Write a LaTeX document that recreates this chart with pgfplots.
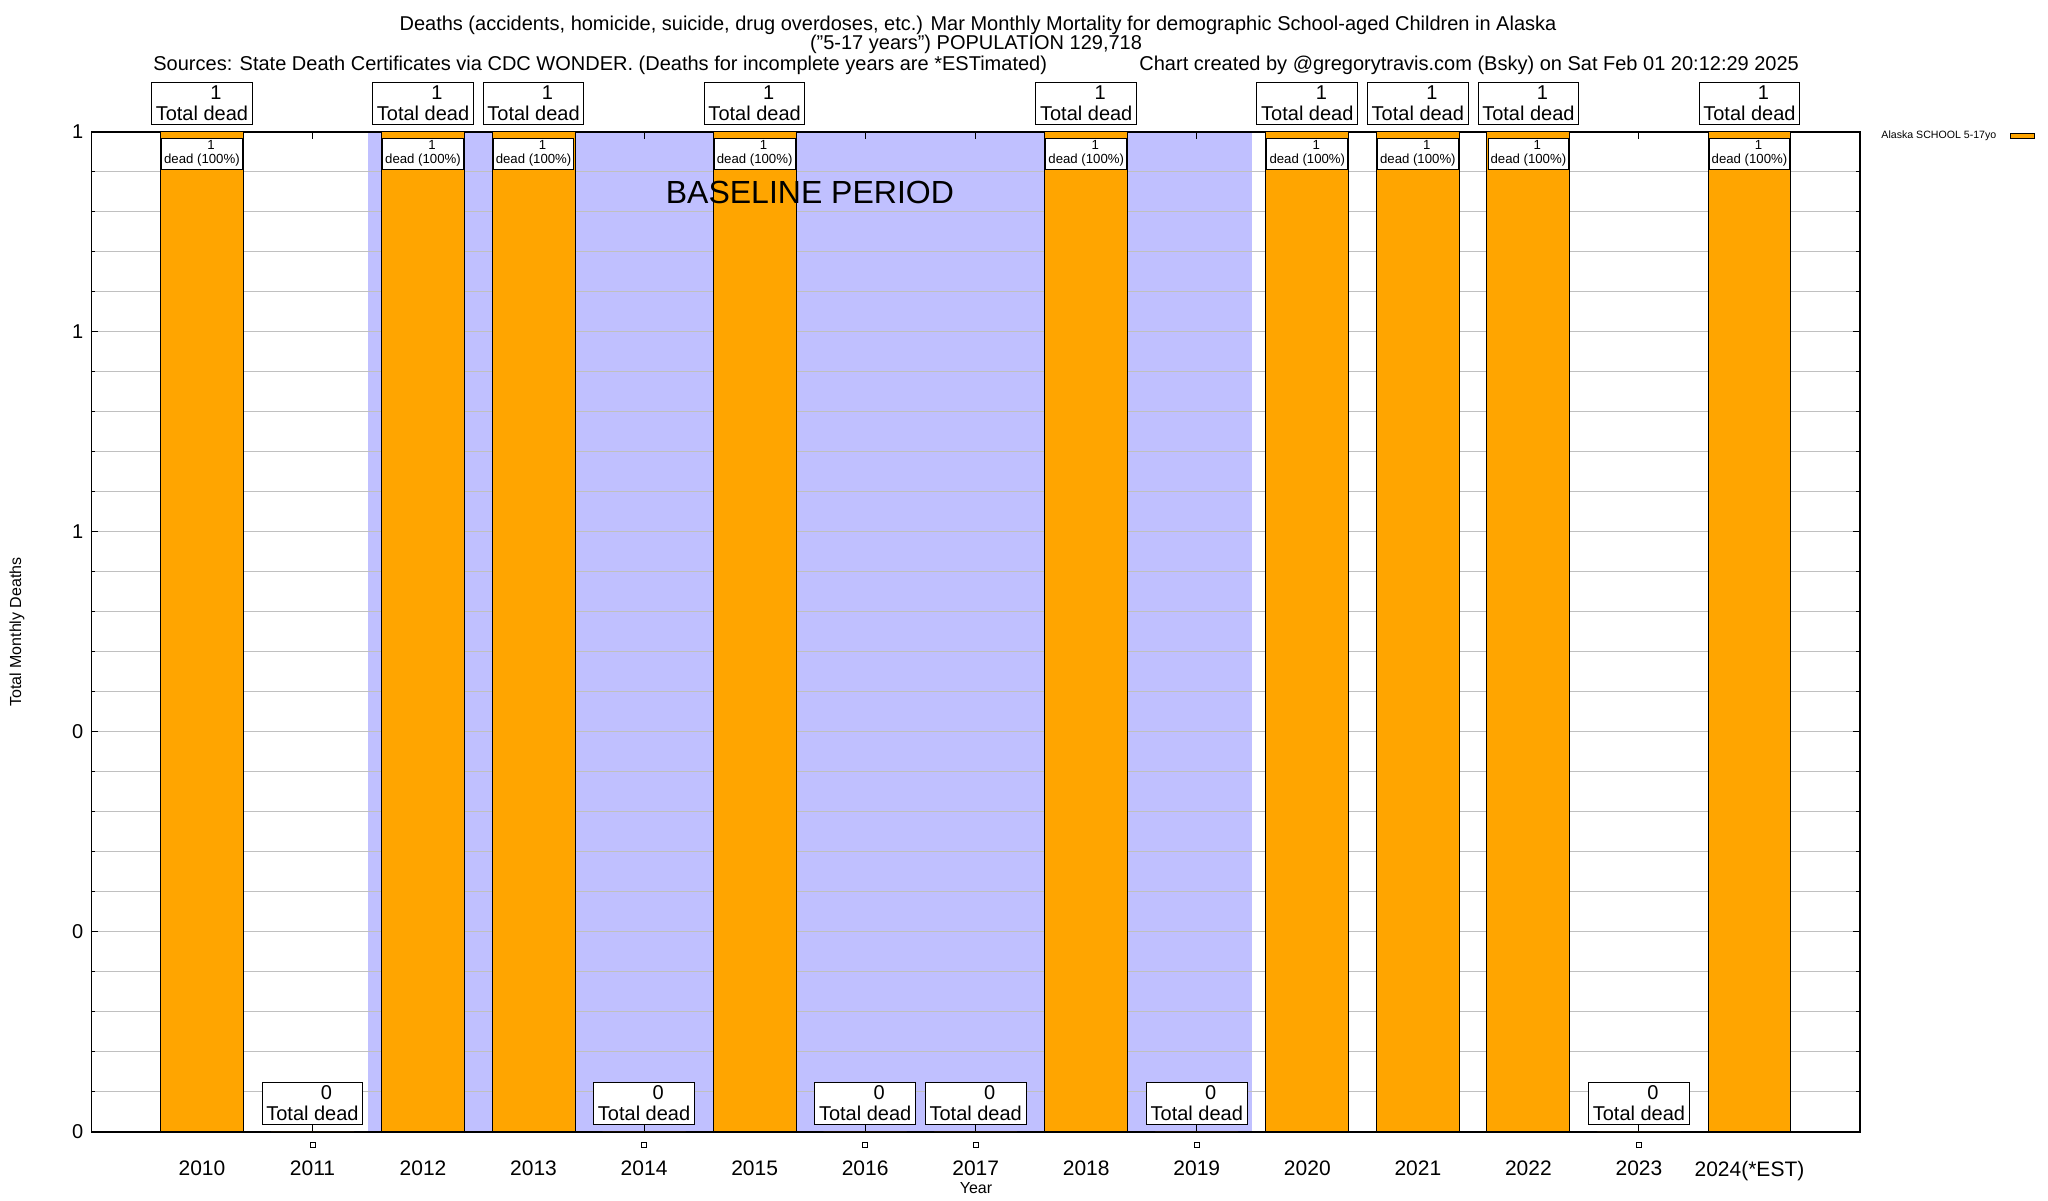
\documentclass[border=0pt]{standalone}
\usepackage{fontspec}
\setmainfont{Liberation Sans}
\usepackage{pgfplots}
\usepackage{pgfplotstable}
\pgfplotsset{compat=1.18}
\definecolor{barorange}{RGB}{255,165,0}
\definecolor{baseblue}{RGB}{192,192,255}
\definecolor{gridgray}{RGB}{192,192,192}
\pgfplotstableread{
x y
0 1
1 0
2 1
3 1
4 0
5 1
6 0
7 0
8 1
9 0
10 1
11 1
12 1
13 0
14 1
}\deathtab
\pgfplotstableread{
x y
0 1
2 1
3 1
5 1
8 1
10 1
11 1
12 1
14 1
}\onetab
\pgfplotstableread{
x y
1 0
4 0
6 0
7 0
9 0
13 0
}\zerotab
\begin{document}
\begin{tikzpicture}
\begin{axis}[
  set layers,
  at={(45.7pt,34pt)}, anchor=south west,
  scale only axis, width=884.3pt, height=500pt,
  xmin=-1, xmax=15, ymin=0, ymax=1,
  clip=false,
  /pgf/number format/assume math mode=true,
  xtick={0,...,14},
  xticklabels={2010,2011,2012,2013,2014,2015,2016,2017,2018,2019,2020,2021,2022,2023,2024(*EST)},
  ytick={0,0.2,0.4,0.6,0.8,1},
  yticklabels={0,0,0,1,1,1},
  minor y tick num=4,
  ymajorgrids, yminorgrids,
  major grid style={gridgray, line width=0.5pt},
  minor grid style={gridgray, line width=0.5pt},
  tick align=inside,
  xtick pos=both, ytick pos=both,
  major tick length=3.5pt, minor tick length=1.8pt,
  tick style={black, line width=0.5pt},
  axis line style={black, line width=0.6pt},
  xticklabel style={font=\fontsize{10.5}{12}\selectfont, yshift=-11pt},
  yticklabel style={font=\fontsize{10}{12}\selectfont, xshift=-0.5pt},
]
% baseline period shading
\addplot[on layer=axis background, draw=none, fill=baseblue, forget plot]
  coordinates {(1.5,0) (1.5,1) (9.5,1) (9.5,0)} -- cycle;
% bars
\addplot[ybar, bar width=0.75, fill=barorange, draw=black, line width=0.5pt,
  nodes near coords={\hspace*{14pt}\pgfmathprintnumber{\pgfplotspointmeta}\\Total dead},
  nodes near coords style={anchor=south, yshift=3.5pt, align=center, draw=black, fill=white,
    line width=0.5pt, inner xsep=2.1pt, inner ysep=1.8pt,
    font=\fontsize{10}{10.5}\selectfont, text=black},
] table[x=x,y=y]{\deathtab};
% inner labels on bars with deaths
\addplot[only marks, mark=none, forget plot,
  nodes near coords={\hspace*{9pt}\pgfmathprintnumber{\pgfplotspointmeta}\\dead (100\%)},
  nodes near coords style={anchor=north, yshift=-3pt, align=center, draw=black, fill=white,
    line width=0.5pt, inner xsep=1.3pt, inner ysep=1.2pt,
    font=\fontsize{6.6}{7}\selectfont, text=black},
] table[x=x,y=y]{\onetab};
% small squares below zero-valued years
\addplot[only marks, mark=square*, mark size=1.25pt, forget plot,
  mark options={draw=black, fill=white, line width=0.4pt, yshift=-6.5pt},
] table[x=x,y=y]{\zerotab};
\node[font=\fontsize{16}{18}\selectfont, text=black] at (axis cs:5.5,0.939) {BASELINE PERIOD};
\end{axis}
% legend
\node[font=\fontsize{5.3}{6}\selectfont, anchor=west, inner sep=0pt] at (940.5pt,532pt) {Alaska SCHOOL 5-17yo};
\draw[fill=barorange, draw=black, line width=0.5pt] (1005pt,530.7pt) rectangle (1017pt,533.3pt);
\node[font=\fontsize{10}{10.5}\selectfont] at (489pt,587.5pt) {Deaths (accidents, homicide, suicide, drug overdoses, etc.) Mar Monthly Mortality for demographic School-aged Children in Alaska};
\node[font=\fontsize{10}{10.5}\selectfont] at (488pt,578pt) {("5-17 years") POPULATION 129,718};
\node[font=\fontsize{10}{10.5}\selectfont, anchor=west, inner sep=0pt] at (76.5pt,567.5pt) {Sources: State Death Certificates via CDC WONDER. (Deaths for incomplete years are *ESTimated)};
\node[font=\fontsize{10}{10.5}\selectfont, anchor=west, inner sep=0pt] at (569.5pt,567.5pt) {Chart created by @gregorytravis.com (Bsky) on Sat Feb 01 20:12:29 2025};
\node[font=\fontsize{8}{9}\selectfont, rotate=90] at (8.5pt,284pt) {Total Monthly Deaths};
\node[font=\fontsize{8}{9}\selectfont] at (488pt,6pt) {Year};
\path (0,0) rectangle (1024pt,600pt);
\end{tikzpicture}
\end{document}
